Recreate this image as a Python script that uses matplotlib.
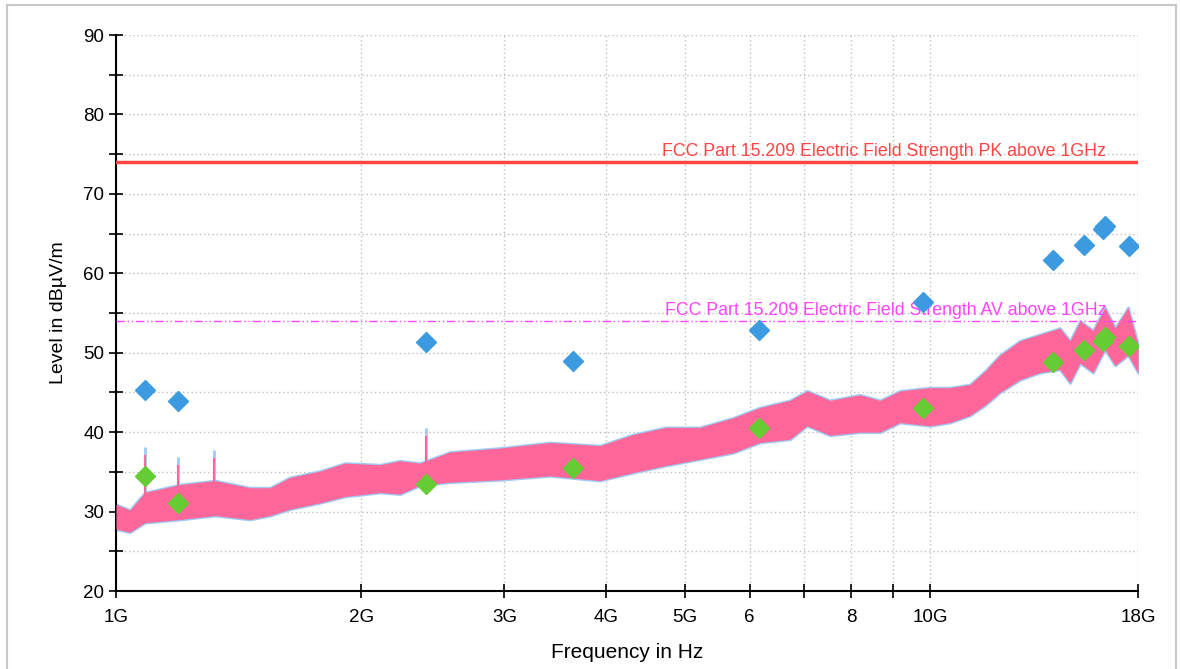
import matplotlib
matplotlib.use("Agg")
import matplotlib.pyplot as plt
from matplotlib.ticker import FixedLocator, NullFormatter, MultipleLocator
from matplotlib.lines import Line2D

plt.rcParams["font.family"] = ["Liberation Sans", "DejaVu Sans"]

# trace envelope (frequency in GHz, level in dBuV/m)
trace_freq = [1.000, 1.040, 1.085, 1.198, 1.323, 1.461, 1.546, 1.635, 1.781, 1.911,
              2.110, 2.233, 2.362, 2.572, 2.962, 3.412, 3.930, 4.315, 4.737, 5.215,
              5.726, 6.180, 6.727, 7.061, 7.532, 8.200, 8.678, 9.182, 9.990, 10.57,
              11.19, 11.68, 12.18, 12.89, 13.64, 14.43, 14.85, 15.28, 15.85, 16.39,
              16.87, 17.50, 18.00]
trace_high = [30.9, 30.2, 32.4, 33.4, 33.9, 33.0, 33.0, 34.3, 35.1, 36.1,
              35.9, 36.4, 36.1, 37.5, 38.0, 38.7, 38.3, 39.7, 40.6, 40.6,
              41.8, 43.1, 44.0, 45.2, 44.0, 44.7, 44.0, 45.2, 45.6, 45.6,
              46.0, 47.7, 49.7, 51.5, 52.3, 53.1, 51.5, 54.0, 52.8, 55.7,
              53.1, 55.7, 51.0]
trace_low = [27.8, 27.4, 28.6, 29.0, 29.5, 29.0, 29.5, 30.3, 31.1, 31.9,
             32.4, 32.2, 33.3, 33.7, 34.0, 34.5, 33.9, 34.9, 35.8, 36.6,
             37.4, 38.7, 39.1, 40.8, 39.6, 40.0, 40.0, 41.2, 40.8, 41.2,
             42.1, 43.4, 45.0, 46.6, 47.5, 47.9, 46.2, 48.7, 47.5, 50.4,
             48.4, 49.7, 47.5]

# narrow spikes on the trace
spike_freq = [1.085, 1.191, 1.320, 2.400]
spike_top = [38.1, 36.9, 37.7, 40.5]
spike_base = [31.0, 31.5, 32.5, 35.0]

# final measurement points
pk_freq = [1.085, 1.191, 2.403, 3.64, 6.16, 9.80, 14.15, 15.45, 16.30, 16.40, 17.54]
pk_level = [45.3, 43.9, 51.3, 48.9, 52.8, 56.4, 61.7, 63.5, 65.6, 66.0, 63.4]
av_freq = [1.085, 1.191, 2.403, 3.64, 6.16, 9.80, 14.15, 15.45, 16.30, 16.40, 17.54]
av_level = [34.5, 31.1, 33.5, 35.5, 40.5, 43.1, 48.8, 50.3, 51.5, 52.0, 50.8]

pk_limit = 74
av_limit = 54
pk_label = "FCC Part 15.209 Electric Field Strength PK above 1GHz"
av_label = "FCC Part 15.209 Electric Field Strength AV above 1GHz"

xtick_pos = [1, 2, 3, 4, 5, 6, 7, 8, 9, 10, 18]
xtick_lab = ["1G", "2G", "3G", "4G", "5G", "6", "", "8", "", "10G", "18G"]

fig = plt.figure(figsize=(11.8, 6.69), dpi=100)
ax = fig.add_axes([116 / 1180, 1 - 591 / 669, 1022 / 1180, 556 / 669])

# blue trace underneath, pink on top
ax.fill_between(trace_freq, trace_low, trace_high, color="#9ecbf5",
                edgecolor="#9ecbf5", linewidth=2.0, zorder=2)
ax.fill_between(trace_freq, trace_low, trace_high, color="#ff6699",
                linewidth=0, zorder=3)
ax.vlines(spike_freq, spike_base, spike_top, color="#9ecbf5", linewidth=2, zorder=2)
ax.vlines(spike_freq, spike_base, [t - 1.0 for t in spike_top], color="#ff6699",
          linewidth=1.5, zorder=3)

ax.axhline(pk_limit, color="#ff4444", linewidth=2.5, zorder=4)
ax.axhline(av_limit, color="#ff44ff", linewidth=1, linestyle=(0, (6, 2, 1, 2, 1, 2)), zorder=4)
ax.text(16.45, pk_limit + 0.3, pk_label, color="#ff4444", fontsize=12.8,
        ha="right", va="bottom", zorder=5)
ax.text(16.45, av_limit + 0.3, av_label, color="#ff44ff", fontsize=12.8,
        ha="right", va="bottom", zorder=5)

ax.plot(pk_freq, pk_level, linestyle="none", marker="D", markersize=10,
        color="#3c9ae0", zorder=6)
ax.plot(av_freq, av_level, linestyle="none", marker="D", markersize=10,
        color="#66cc33", zorder=6)

ax.set_xscale("log")
ax.set_xlim(1, 18)
ax.set_ylim(20, 90)
ax.xaxis.set_major_locator(FixedLocator(xtick_pos))
ax.xaxis.set_minor_locator(FixedLocator([]))
ax.set_xticklabels(xtick_lab)
ax.xaxis.set_minor_formatter(NullFormatter())
ax.yaxis.set_major_locator(MultipleLocator(10))
ax.yaxis.set_minor_locator(MultipleLocator(5))

ax.grid(True, which="both", color="#c0c0c0", linestyle=(0, (1, 2)), linewidth=1)
ax.set_axisbelow(True)
for side in ["top", "right"]:
    ax.spines[side].set_visible(False)
for side in ["left", "bottom"]:
    ax.spines[side].set_linewidth(1.5)
ax.tick_params(which="both", direction="inout", length=10, width=1.2, labelsize=13.5)
ax.tick_params(axis="x", pad=8)

ax.set_xlabel("Frequency in Hz", fontsize=15, labelpad=12)
ax.set_ylabel("Level in dBµV/m", fontsize=14, labelpad=12)

# light frame around the whole picture
fx0, fx1, fy1 = 7 / 1180, 1176 / 1180, 1 - 5 / 669
for xs, ys in [([fx0, fx0], [0, fy1]), ([fx0, fx1], [fy1, fy1]), ([fx1, fx1], [0, fy1])]:
    fig.add_artist(Line2D(xs, ys, color="#c8c8c8", linewidth=1.5, transform=fig.transFigure))

fig.savefig("out.png", dpi=100)
